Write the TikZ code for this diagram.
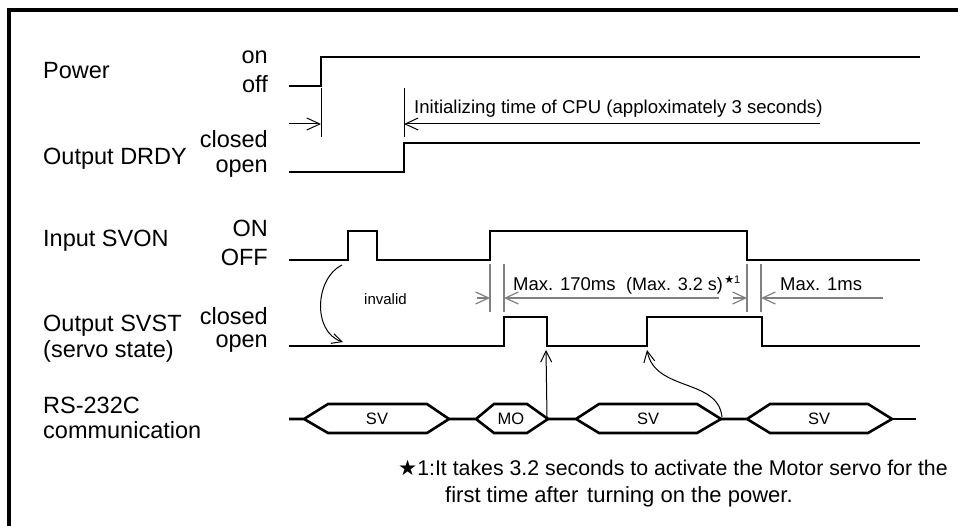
\documentclass[tikz,border=0pt]{standalone}
\usepackage{fontspec}
\setmainfont{Liberation Sans}
\newfontfamily\starfont{DejaVu Sans}
\usetikzlibrary{arrows.meta}

\begin{document}
\begin{tikzpicture}[x=1pt, y=-1pt]
		% Estilos
		\tikzset{wave/.style={line width=2.6pt, line join=miter},
			thin line/.style={line width=1pt},
			dimline/.style={line width=1.2pt, draw=gray},
			barb/.style={-{Straight Barb[length=13pt, width=12pt]}},
			lbl/.style={font=\fontsize{23.5}{25}\selectfont, inner sep=0pt},
			dimtext/.style={font=\fontsize{18.5}{20}\selectfont, inner sep=0pt},
			hexlbl/.style={font=\fontsize{16.5}{18}\selectfont, inner sep=0pt},
			notetext/.style={font=\fontsize{22}{24}\selectfont, inner sep=0pt, anchor=base west}}
		
		\useasboundingbox (0,0) rectangle (958,526);
		
		% --- Marco (solo borde superior e izquierdo visibles) ---
		\draw[line width=4pt] (9,526) -- (9,10) -- (958,10);
		
		% --- Nombres de las señales ---
		\node[lbl, anchor=base west] (pw) at (43,79) {Power};
		\node[lbl, anchor=base west] (drdy) at (43,165) {Output DRDY};
		\node[lbl, anchor=base west] (svon) at (43,247) {Input SVON};
		\node[lbl, anchor=base west] (svst) at (43,332) {Output SVST};
		\node[lbl, anchor=base west] (svstb) at (43,357) {(servo state)};
		\node[lbl, anchor=base west] (rs) at (43,413) {RS-232C};
		\node[lbl, anchor=base west] (rsb) at (43,438) {communication};
		
		% --- Estados ---
		\node[lbl, anchor=base east] (pwOn) at (268,64) {on};
		\node[lbl, anchor=base east] (pwOff) at (268,93) {off};
		\node[lbl, anchor=base east] (drdyC) at (268,148) {closed};
		\node[lbl, anchor=base east] (drdyO) at (268,173) {open};
		\node[lbl, anchor=base east] (svonOn) at (268,237) {ON};
		\node[lbl, anchor=base east] (svonOff) at (268,266) {OFF};
		\node[lbl, anchor=base east] (svstC) at (268,325) {closed};
		\node[lbl, anchor=base east] (svstO) at (268,348) {open};
		
		% --- Formas de onda ---
		\draw[wave] (289,86) -- (321,86) -- (321,57) -- (920,57);
		\draw[wave] (289,172) -- (404,172) -- (404,143) -- (920,143);
		\draw[wave] (289,260) -- (348,260) -- (348,231) -- (377,231) -- (377,260)
			-- (490,260) -- (490,231) -- (747,231) -- (747,260) -- (920,260);
		\draw[wave] (289,346) -- (504,346) -- (504,317) -- (547,317) -- (547,346)
			-- (647,346) -- (647,317) -- (762,317) -- (762,346) -- (920,346);
		
		% --- Tiempo de inicialización ---
		\draw[thin line] (321,88) -- (321,137);
		\draw[thin line] (404,88) -- (404,137);
		\draw[thin line, barb] (289,124) -- (321,124);
		\draw[thin line, barb] (820,124) -- (404,124);
		\node[dimtext, font=\fontsize{18.6}{20}\selectfont, anchor=base west] (init) at (414,114)
			{Initializing time of CPU (apploximately 3 seconds)};
		
		% --- Tiempos de SVST ---
		\foreach \x in {490,504,747,761}
			\draw[dimline] (\x,264) -- (\x,312);
		\draw[dimline, barb] (477,298) -- (490,298);
		\draw[dimline, barb] (719,298) -- (504,298);
		\draw[dimline, barb] (733,298) -- (747,298);
		\draw[dimline, barb] (883,298) -- (761,298);
		\node[dimtext, anchor=base west] (max170) at (513,291) {Max. 170ms};
		\node[dimtext, font=\fontsize{18}{20}\selectfont, anchor=base west] (max32) at (626,291) {(Max. 3.2 s)};
		\node[inner sep=0pt, anchor=base west, font=\fontsize{11}{12}\selectfont] (max32s)
			at ([xshift=1pt, yshift=7pt]max32.base east) {{\starfont ★}1};
		\node[dimtext, anchor=base west] (max1) at (780,291) {Max. 1ms};
		
		% --- Flecha "invalid" ---
		\coordinate (invA) at (342,265);
		\coordinate (invB) at (343,342);
		\draw[thin line, -{Straight Barb[length=10pt, width=10pt]}] (invA) .. controls (315,278) and (312,332) .. (invB);
		\node[font=\fontsize{15}{16}\selectfont, inner sep=0pt, anchor=base west] (inv) at (364,305) {invalid};
		
		% --- Comunicación RS-232C ---
		\draw[wave] (289,419) -- (304,419) -- (328,404) -- (427,404) -- (449,419) -- (427,433) -- (328,433) -- (304,419);
		\draw[wave] (449,419) -- (476,419) -- (494,404) -- (527,404) -- (548,419) -- (527,433) -- (494,433) -- (476,419);
		\draw[wave] (548,419) -- (576,419) -- (599,404) -- (697,404) -- (721,419) -- (697,433) -- (599,433) -- (576,419);
		\draw[wave] (721,419) -- (747,419) -- (770,404) -- (868,404) -- (892,419) -- (868,433) -- (770,433) -- (747,419);
		\draw[wave] (892,419) -- (916,419);
		\node[hexlbl] (sv1) at (377,419) {SV};
		\node[hexlbl] (mo) at (511,419) {MO};
		\node[hexlbl] (sv2) at (648,419) {SV};
		\node[hexlbl] (sv3) at (819,419) {SV};
		
		% --- Flechas de comunicación a SVST ---
		\coordinate (moEnd) at (547,417);
		\coordinate (svstDown) at (546,350);
		\coordinate (sv2End) at (722,417);
		\coordinate (svstUp) at (647,350);
		\draw[thin line, -{Straight Barb[length=11pt, width=11pt]}] (moEnd) -- (svstDown);
		\draw[thin line, -{Straight Barb[length=11pt, width=11pt]}] (sv2End) .. controls (718,378) and (655,392) .. (svstUp);
		
		% --- Nota ---
		\node[notetext, font=\fontsize{21.3}{22}\selectfont] (note1) at (398,475)
			{{\starfont ★}1:It takes 3.2 seconds to activate the Motor servo for the};
		\node[notetext] (note2a) at (445,502) {first time after};
		\node[notetext] (note2b) at (587,502) {turning on the power.};
		
	\end{tikzpicture}
\end{document}
